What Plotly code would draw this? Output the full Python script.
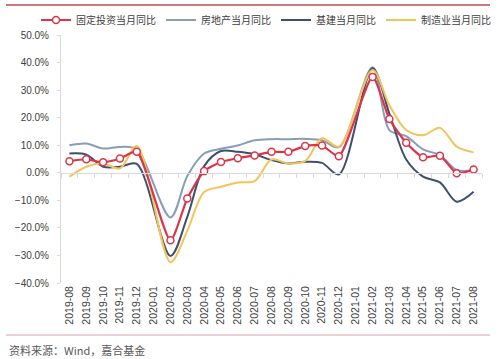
import plotly.graph_objects as go

months = ["2019-08", "2019-09", "2019-10", "2019-11", "2019-12", "2020-01", "2020-02",
          "2020-03", "2020-04", "2020-05", "2020-06", "2020-07", "2020-08", "2020-09",
          "2020-10", "2020-11", "2020-12", "2021-01", "2021-02", "2021-03", "2021-04",
          "2021-05", "2021-06", "2021-07", "2021-08"]

fixed_inv = [4.2, 4.9, 3.8, 5.2, 7.6, None, -24.5, -9.3, 0.6, 3.9, 5.3, 6.3, 7.6, 7.6,
             9.7, 9.9, 6.0, None, 34.8, 19.5, 10.9, 5.6, 6.2, -0.2, 1.2]
real_estate = [10.0, 10.6, 8.8, 9.4, 8.5, None, -16.2, -1.2, 7.0, 8.7, 9.9, 11.8, 12.2, 12.2,
               12.3, 11.8, 9.3, None, 38.3, 15.5, 13.3, 8.5, 6.4, 1.0, 1.0]
infra = [7.0, 6.6, 2.2, 2.2, 3.2, None, -30.2, -16.0, 2.4, 7.9, 7.6, 6.7, 4.6, 3.4,
         4.0, 3.6, -0.6, None, 37.9, 21.5, 4.8, -1.4, -3.5, -10.5, -6.9]
manuf = [-1.4, 2.2, 3.4, 1.6, 9.7, None, -32.4, -21.0, -7.0, -5.1, -3.5, -3.0, 4.8, 3.4,
         4.3, 12.5, 9.5, None, 37.3, 24.5, 15.5, 13.6, 16.3, 9.5, 7.4]

names = ["固定投资当月同比", "房地产当月同比", "基建当月同比", "制造业当月同比"]
colors = ["#d9364a", "#8b9cb6", "#3f4f6e", "#f2c45a"]

fig = go.Figure()
fig.add_trace(go.Scatter(x=months, y=real_estate, name=names[1], mode="lines",
                         line=dict(color=colors[1], width=2, shape="spline", smoothing=0.9),
                         connectgaps=True, legendrank=2))
fig.add_trace(go.Scatter(x=months, y=infra, name=names[2], mode="lines",
                         line=dict(color=colors[2], width=2, shape="spline", smoothing=0.9),
                         connectgaps=True, legendrank=3))
fig.add_trace(go.Scatter(x=months, y=manuf, name=names[3], mode="lines",
                         line=dict(color=colors[3], width=2, shape="spline", smoothing=0.9),
                         connectgaps=True, legendrank=4))
fig.add_trace(go.Scatter(x=months, y=fixed_inv, name=names[0], mode="lines+markers",
                         line=dict(color=colors[0], width=2.2, shape="spline", smoothing=0.6),
                         marker=dict(symbol="circle", size=7, color="white",
                                     line=dict(color=colors[0], width=1.5)),
                         connectgaps=True, legendrank=1))
# dummy trace for the zero-crossing axis
fig.add_trace(go.Scatter(x=months, y=[None] * len(months), xaxis="x2", showlegend=False,
                         hoverinfo="skip"))

W, H = 500, 359
ml, mr, mt, mb = 61, 18, 35, 76
pw, ph = W - ml - mr, H - mt - mb

def px_x(x):
    return (x - ml) / pw

def px_y(y):
    return (H - mb - y) / ph

tickfont = dict(family="Liberation Sans, Arial, sans-serif", size=10, color="#404040")

fig.update_layout(
    width=W, height=H,
    margin=dict(l=ml, r=mr, t=mt, b=mb, autoexpand=False),
    paper_bgcolor="white", plot_bgcolor="white",
    font=dict(family="Noto Sans CJK SC, Liberation Sans, sans-serif", color="#404040"),
    showlegend=True,
    legend=dict(orientation="h", x=px_x(36), xanchor="left", y=px_y(20), yanchor="middle",
                font=dict(size=10, color="#404040", family="Noto Sans CJK SC"),
                itemwidth=30, tracegroupgap=0, traceorder="normal",
                bgcolor="rgba(0,0,0,0)"),
    xaxis=dict(type="category", categoryorder="array", categoryarray=months,
               range=[-0.5, len(months) - 0.5], showline=False, showgrid=False,
               ticks="", tickangle=-90, tickfont=dict(family="Liberation Sans, Arial, sans-serif",
                                                      size=10.5, color="#404040"),
               zeroline=False),
    xaxis2=dict(type="category", categoryorder="array", categoryarray=months,
                range=[-0.5, len(months) - 0.5], overlaying="x", anchor="free",
                position=40 / 90, showline=True, linecolor="#d9d9d9", linewidth=1,
                ticks="outside", ticklen=4, tickcolor="#d9d9d9", tickson="boundaries",
                showticklabels=False, showgrid=False, zeroline=False),
    yaxis=dict(range=[-40, 50], dtick=10, tick0=0, tickformat=".1f", ticksuffix="%",
               showgrid=False, zeroline=False, showline=True, linecolor="#d9d9d9",
               ticks="outside", ticklen=3, tickcolor="#d9d9d9", tickfont=tickfont,
               ticklabelstandoff=6),
)

fig.add_shape(type="line", xref="paper", yref="paper", x0=px_x(6), x1=px_x(490),
              y0=px_y(5), y1=px_y(5), line=dict(color="#c0474f", width=1.5))
fig.add_shape(type="line", xref="paper", yref="paper", x0=px_x(6), x1=px_x(490),
              y0=px_y(335), y1=px_y(335), line=dict(color="#d9a1a8", width=1))
fig.add_annotation(text="资料来源：Wind，嘉合基金", xref="paper", yref="paper",
                   x=px_x(7), y=px_y(350), xanchor="left", yanchor="middle", showarrow=False,
                   font=dict(size=11, color="#595959", family="Noto Sans CJK SC"))

fig.write_html("out.html", config={"displayModeBar": False},
               post_script="document.body.style.margin='0';")
